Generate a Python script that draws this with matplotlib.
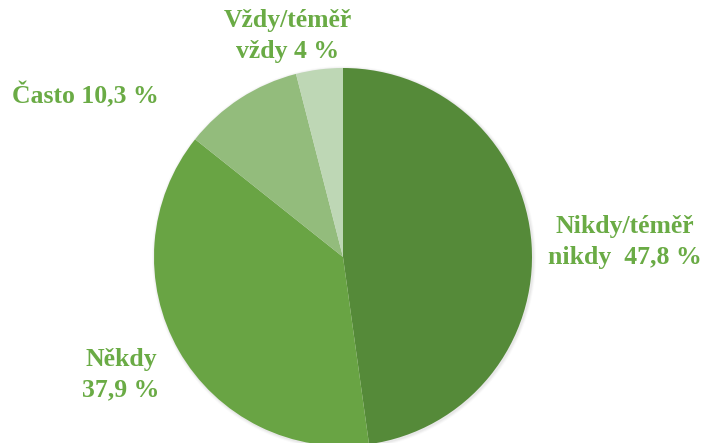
import matplotlib
matplotlib.use("Agg")
import matplotlib.pyplot as plt

categories = ["Nikdy/téměř\nnikdy", "Někdy", "Často", "Vždy/téměř\nvždy"]
values = [47.8, 37.9, 10.3, 4.0]
labels = ["Nikdy/téměř\nnikdy  47,8 %", "Někdy\n37,9 %", "Často 10,3 %", "Vždy/téměř\nvždy 4 %"]
colors = ["#558a39", "#69a444", "#93bc7c", "#bed7b5"]
text_color = "#6aab45"

W, H = 705, 443
fig = plt.figure(figsize=(W / 100, H / 100), dpi=100)
ax = fig.add_axes([0, 0, 1, 1])
ax.set_xlim(0, W)
ax.set_ylim(0, H)
ax.set_aspect("equal")
ax.axis("off")

cx, cy, r = 343, H - 257, 189
# soft shadow
for i, a in enumerate([0.04, 0.03, 0.02]):
    sh = plt.Circle((cx + 1, cy - 1), r + 1 + i, color="black", alpha=a, zorder=0, lw=0)
    ax.add_patch(sh)
ax.pie(values, colors=colors, startangle=90, counterclock=False,
       center=(cx, cy), radius=r, frame=True,
       wedgeprops=dict(linewidth=0))
ax.set_xlim(0, W)
ax.set_ylim(0, H)
ax.axis("off")

font = dict(family="Liberation Serif", fontweight="bold", color=text_color,
            fontsize=18.5, linespacing=1.42)
pos = [(625, H - 242, "center", "center"),
       (121, H - 375, "center", "center"),
       (12, H - 95, "left", "center"),
       (288, H - 36, "center", "center")]
for lab, (x, y, ha, va) in zip(labels, pos):
    ax.text(x, y, lab, ha=ha, va=va, multialignment="center", **font)

fig.savefig("out.png", dpi=100)
